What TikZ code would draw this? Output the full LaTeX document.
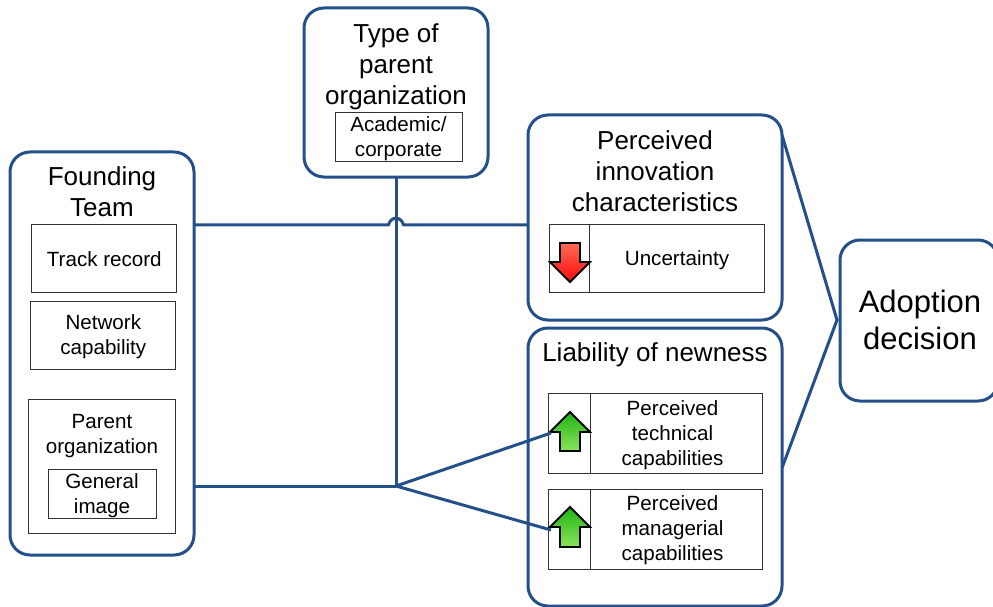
\documentclass[tikz,border=0pt]{standalone}
\usepackage{fontspec}
\setmainfont{Liberation Sans}
\definecolor{boxblue}{HTML}{24508A}
\definecolor{cellgray}{HTML}{333333}
\definecolor{arrowtop}{HTML}{1FB414}
\definecolor{arrowbot}{HTML}{8AE45A}
\definecolor{redtop}{HTML}{FF6A55}
\definecolor{redbot}{HTML}{FF0A0A}

\begin{document}
\begin{tikzpicture}[
            x=1pt,y=-1pt,
            bigbox/.style={draw=boxblue,line width=3pt,rounded corners=20pt,inner sep=0pt,outer sep=0pt},
            cell/.style={draw=cellgray,line width=0.9pt,inner sep=0pt,outer sep=0pt,align=center,font=\fontsize{20.6}{25}\selectfont},
            title/.style={inner sep=0pt,align=center,font=\fontsize{26}{31}\selectfont},
            link/.style={draw=boxblue,line width=3pt,line join=miter},
            uparrow/.style={draw=black,line width=1.8pt,line join=miter,top color=arrowtop,bottom color=arrowbot},
            downarrow/.style={draw=black,line width=1.8pt,line join=miter,top color=redtop,bottom color=redbot}
            ]
            \useasboundingbox (0,0) rectangle (993,607);
            \clip (0,0) rectangle (993,607);

            % big boxes
            \node[bigbox,minimum width=184pt,minimum height=403pt] (founding) at (102,353.5) {};
            \node[bigbox,minimum width=184pt,minimum height=169pt] (ptype) at (396,92.5) {};
            \node[bigbox,minimum width=254pt,minimum height=205pt] (innov) at (655,217.5) {};
            \node[bigbox,minimum width=254pt,minimum height=278pt] (liab) at (655,467) {};
            \node[bigbox,minimum width=158pt,minimum height=161pt] (adopt) at (919,320.5) {};

            % titles
            \node[title] (foundingtxt) at (102,192) {Founding\\Team};
            \node[title] (ptypetxt) at (396,67) {Type of\\parent\\organization};
            \node[title] (innovtxt) at (655,171) {Perceived\\innovation\\characteristics};
            \node[title] (liabtxt) at (655,355) {Liability of newness};
            \node[inner sep=0pt,align=center,font=\fontsize{31}{37}\selectfont] (adopttxt) at (920,320) {Adoption\\decision};

            % inner cells
            \node[cell,minimum width=145pt,minimum height=68pt] (track) at (104.3,258.8) {Track record};
            \node[cell,minimum width=145pt,minimum height=68pt] (network) at (103.3,335.8) {};
            \node[cell,draw=none] (networktxt) at (103.3,336.5) {Network\\capability};
            \node[cell,minimum width=147pt,minimum height=134pt] (parent) at (102.3,466.8) {};
            \node[cell,draw=none] (parenttxt) at (102,436) {Parent\\organization};
            \node[cell,minimum width=108pt,minimum height=49pt] (image) at (102.3,494.3) {};
            \node[cell,draw=none] (imagetxt) at (102,496) {General\\image};
            \node[cell,minimum width=127pt,minimum height=49pt] (academic) at (398.5,137.3) {};
            \node[cell,draw=none] (academictxt) at (398.5,139) {Academic/\\corporate};
            \node[cell,minimum width=215pt,minimum height=68pt] (uncert) at (657.3,258.8) {};
            \node[cell,draw=none] (uncerttxt) at (677,260) {Uncertainty};
            \node[cell,minimum width=214pt,minimum height=80pt] (tech) at (655.8,433.8) {};
            \node[cell,draw=none] (techtxt) at (672.5,435) {Perceived\\technical\\capabilities};
            \node[cell,minimum width=214pt,minimum height=80pt] (mgmt) at (655.8,529.8) {};
            \node[cell,draw=none] (mgmttxt) at (672.5,530.5) {Perceived\\managerial\\capabilities};
            \draw[cellgray,line width=0.9pt] (589.8,224.8) -- (589.8,292.8);
            \draw[cellgray,line width=0.9pt] (590.8,393.8) -- (590.8,473.8);
            \draw[cellgray,line width=0.9pt] (590.8,489.8) -- (590.8,569.8);

            % trend arrows
            \draw[downarrow] (560,243) -- (580,243) -- (580,262) -- (590,262) -- (570,282) -- (550,262) -- (560,262) -- cycle;
            \draw[uparrow] (570,412) -- (590,432) -- (580,432) -- (580,451) -- (560,451) -- (560,432) -- (550,432) -- cycle;
            \draw[uparrow] (570,507) -- (590,527) -- (580,527) -- (580,547) -- (560,547) -- (560,527) -- (550,527) -- cycle;

            % connectors
            \coordinate (fork) at (396,486);
            \coordinate (techend) at (551,433);
            \coordinate (mgmtend) at (551,530);
            \coordinate (jumpa) at (388.5,224.8);
            \coordinate (jumpb) at (403.5,224.8);
            \coordinate (wedgetop) at (782,135);
            \coordinate (wedgetip) at (837,320);
            \coordinate (wedgebot) at (782,468);
            \draw[link] (founding.east |- track.north) -- (jumpa) .. controls (391,216) and (401,216) .. (jumpb) -- (innov.west |- track.north);
            \draw[link] (ptype.south) -- (fork);
            \draw[link] (founding.east |- fork) -- (fork);
            \draw[link] (techend) -- (fork) -- (mgmtend);
            \draw[link] (wedgetop) -- (wedgetip) -- (wedgebot);
        \end{tikzpicture}
\end{document}
